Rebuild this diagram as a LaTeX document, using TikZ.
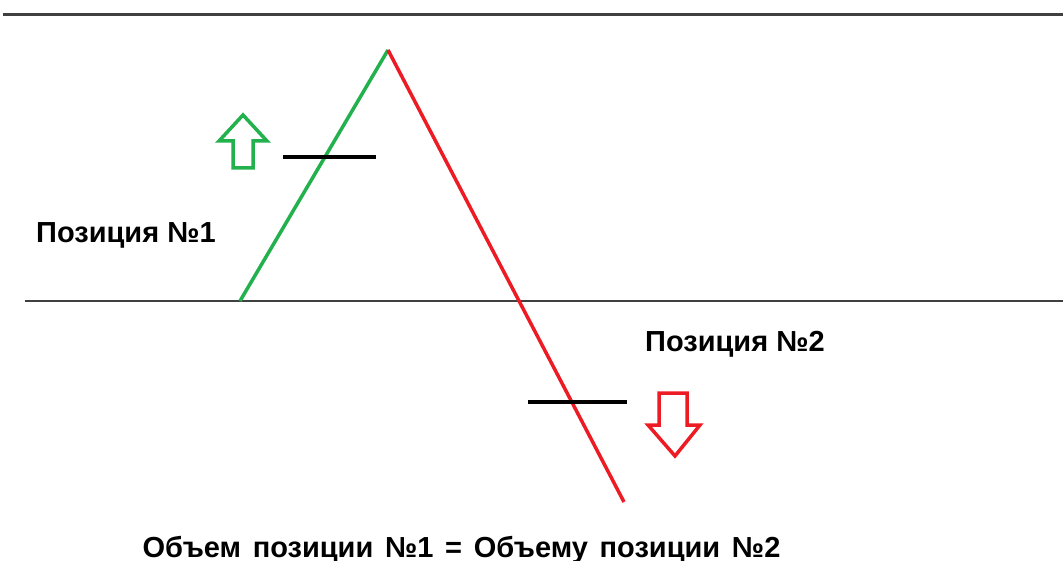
\documentclass[tikz,border=0pt]{standalone}
\usepackage{fontspec}
\setmainfont{Liberation Sans}
\begin{document}
\begin{tikzpicture}[x=1pt,y=-1pt,
  hline/.style={draw=black!75},
  trend/.style={line width=3.5pt},
  bar/.style={line width=4pt,black},
  lbl/.style={font=\bfseries\fontsize{29}{32}\selectfont,inner sep=0pt,anchor=base west},
  bigarrow/.style={line width=3.5pt,line join=miter,fill=white}]
\useasboundingbox (0,0) rectangle (1063,561);
\definecolor{mygreen}{RGB}{34,177,76}
\definecolor{myred}{RGB}{237,28,36}
\coordinate (t1) at (3,15); \coordinate (t2) at (1063,15);
\coordinate (b1) at (25,301); \coordinate (b2) at (1063,301);
\draw[hline,line width=3pt] (t1) -- (t2);
\draw[hline,line width=2pt] (b1) -- (b2);
\coordinate (g0) at (240,301);
\coordinate (peak) at (388,50);
\coordinate (r1) at (624,502);
\draw[trend,mygreen] (g0) -- (peak);
\draw[trend,myred] (peak) -- (r1);
\coordinate (k1) at (283,157); \coordinate (k2) at (376,157);
\coordinate (k3) at (528,402); \coordinate (k4) at (627,402);
\draw[bar] (k1) -- (k2);
\draw[bar] (k3) -- (k4);
\draw[bigarrow,draw=mygreen] (243,115) -- (267,141) -- (253,141) -- (253,168) -- (233,168) -- (233,141) -- (219,141) -- cycle;
\draw[bigarrow,draw=myred] (675,456) -- (700,425) -- (687,425) -- (687,393) -- (659,393) -- (659,425) -- (648,425) -- cycle;
\node[lbl] (p1) at (36,243) {Позиция №1};
\node[lbl] (p2) at (645,352) {Позиция №2};
\node[lbl,anchor=base] (eq) at (461.5,557) {\spaceskip=1.45\fontdimen2\font Объем позиции №1 = Объему позиции №2};
\end{tikzpicture}
\end{document}
